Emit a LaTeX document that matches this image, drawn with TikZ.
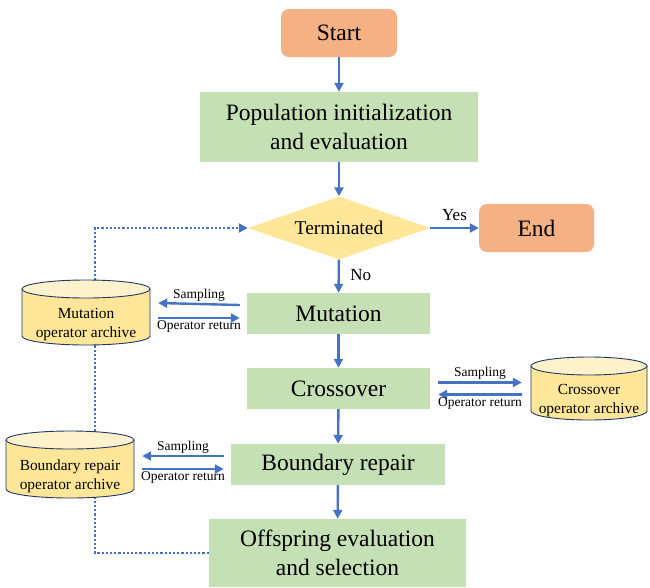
\documentclass[tikz,border=0pt]{standalone}
\usepackage{fontspec}
\setmainfont{Liberation Serif}
\usepackage{tikz}
\usetikzlibrary{arrows.meta,shapes.geometric,backgrounds}

\definecolor{stepgreen}{HTML}{C5E0B4}
\definecolor{termorange}{HTML}{F4B183}
\definecolor{decyellow}{HTML}{FFE699}
\definecolor{archlight}{HTML}{FFF2CC}
\definecolor{archborder}{HTML}{1F3864}
\definecolor{flowblue}{HTML}{4472C4}

\begin{document}
\begin{tikzpicture}[x=1pt, y=-1pt,
    bigtext/.style={font=\fontsize{23.5}{28.5}\selectfont},
    stepbox/.style={rectangle, fill=stepgreen, align=center, inner sep=0pt, bigtext},
    termbox/.style={rectangle, rounded corners=8pt, fill=termorange, inner sep=0pt, bigtext},
    % archive drum: #1 = half width of the ellipse
    archive/.style={rectangle, inner sep=0pt, minimum width=2*#1+2pt,
        path picture={
            \filldraw[fill=decyellow, draw=archborder, line width=0.9pt]
                ([shift={(1pt,-10pt)}]path picture bounding box.north west)
                -- ([shift={(1pt,10pt)}]path picture bounding box.south west)
                arc[start angle=180, end angle=360, x radius=#1, y radius=9pt]
                -- ([shift={(-1pt,-10pt)}]path picture bounding box.north east);
            \filldraw[fill=archlight, draw=archborder, line width=0.9pt]
                ([yshift=-10pt]path picture bounding box.north) ellipse [x radius=#1, y radius=9pt];
        }},
    archtext/.style={align=center, font=\fontsize{15.4}{19}\selectfont, yshift=-12pt},
    flow/.style={draw=flowblue, line width=2.4pt, -{Triangle[length=9pt,width=9pt]}},
    loopline/.style={draw=flowblue, line width=2.2pt, dotted, -{Triangle[length=9pt,width=9pt]}},
    small/.style={font=\fontsize{13.5}{16}\selectfont, inner sep=1.5pt}]
    \useasboundingbox (0,0) rectangle (650,587);

    % Main flow
    \node (start) at (339,33) [termbox, minimum width=116pt, minimum height=48pt] {Start};
    \node (pop) at (339,127) [stepbox, minimum width=278pt, minimum height=70pt] {Population initialization\\and evaluation};
    \node (term) at (339,228) [diamond, aspect=2.9, fill=decyellow, inner sep=0pt, minimum width=182pt, minimum height=63pt,
        font=\fontsize{19.5}{24}\selectfont] {Terminated};
    \node (finish) at (536.5,228) [termbox, minimum width=115pt, minimum height=48pt] {End};
    \node (mut) at (338.5,313.5) [stepbox, minimum width=183pt, minimum height=41pt] {Mutation};
    \node (cross) at (338.5,388.5) [stepbox, minimum width=183pt, minimum height=41pt] {Crossover};
    \node (brep) at (338,464.5) [stepbox, minimum width=214pt, minimum height=41pt] {Boundary repair};
    \node (offs) at (337.5,553) [stepbox, minimum width=257pt, minimum height=68pt] {Offspring evaluation\\and selection};

    % Operator archives
    \node (mutarc) at (86,312.5) [archive=64pt, minimum height=67pt,
        label={[archtext]center:{Mutation\\operator archive}}] {};
    \node (crossarc) at (589,388.5) [archive=58pt, minimum height=65pt,
        label={[archtext]center:{Crossover\\operator archive}}] {};
    \node (brarc) at (70,464.5) [archive=64pt, minimum height=69pt,
        label={[archtext]center:{Boundary repair\\operator archive}}] {};

    \draw[flow] (start) -- (pop);
    \draw[flow] (pop) -- (term);
    \draw[flow] (term) -- (mut) node[pos=0.45, right, font=\fontsize{17}{20}\selectfont, xshift=7pt] {No};
    \draw[flow] (term.east) -- (finish.west) node[midway, above, font=\fontsize{17}{20}\selectfont, yshift=3pt] {Yes};
    \draw[flow] (mut) -- (cross);
    \draw[flow] (cross) -- (brep);
    \draw[flow] (brep) -- (offs);

    % Sampling and operator return
    \draw[flow] ([xshift=-7pt,yshift=8.5pt]mut.west) -- ([xshift=7pt,yshift=9.5pt]mutarc.east) node[midway, above, small] {Sampling};
    \draw[flow] ([xshift=7pt,yshift=-5.5pt]mutarc.east) -- ([xshift=-7pt,yshift=-4.5pt]mut.west) node[midway, below, small] {Operator return};
    \draw[flow] ([xshift=8pt,yshift=6pt]cross.east) -- ([xshift=-8pt,yshift=6pt]crossarc.west) node[midway, above, small] {Sampling};
    \draw[flow] ([xshift=-8pt,yshift=-6pt]crossarc.west) -- ([xshift=8pt,yshift=-6pt]cross.east) node[midway, below, small] {Operator return};
    \draw[flow] ([xshift=-7pt,yshift=8.5pt]brep.west) -- ([xshift=7pt,yshift=8.5pt]brarc.east) node[midway, above, small] {Sampling};
    \draw[flow] ([xshift=7pt,yshift=-4.5pt]brarc.east) -- ([xshift=-7pt,yshift=-4.5pt]brep.west) node[midway, below, small] {Operator return};

    % Feedback loop
    \coordinate (bend) at (95,0);
    \begin{pgfonlayer}{background}
        \draw[loopline] (offs.west) -- (offs.west -| bend) -- (term.west -| bend) -- (term.west);
    \end{pgfonlayer}
\end{tikzpicture}
\end{document}
